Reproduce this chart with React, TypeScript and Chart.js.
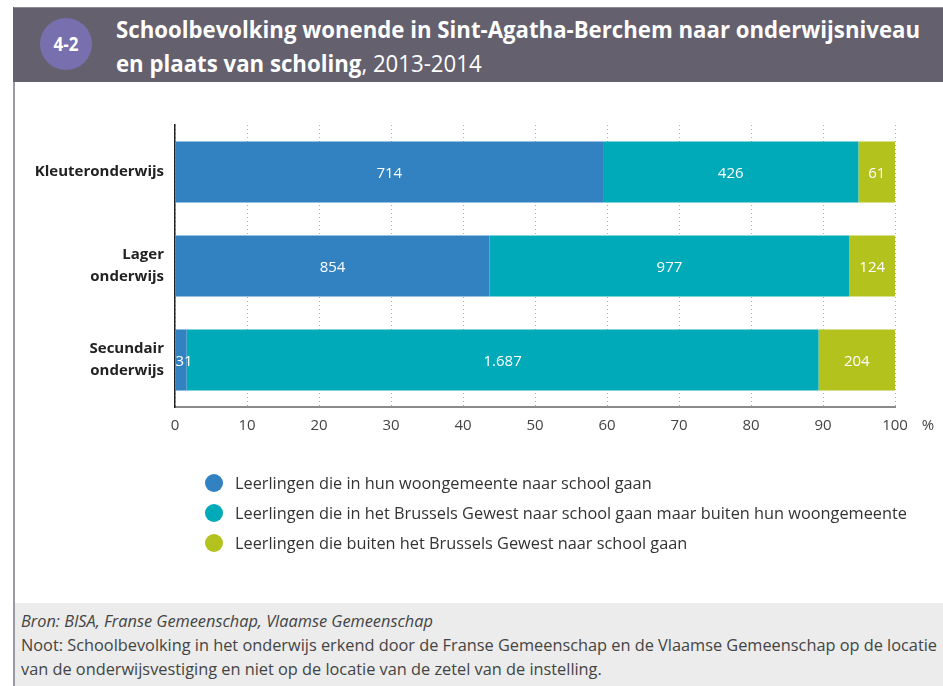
import React, { useEffect, useLayoutEffect, useRef } from "react";
import { Chart, registerables } from "chart.js";

Chart.register(...registerables);

const categories: (string | string[])[] = [
  "Kleuteronderwijs",
  ["Lager", "onderwijs"],
  ["Secundair", "onderwijs"],
];
const seriesNames = [
  "Leerlingen die in hun woongemeente naar school gaan",
  "Leerlingen die in het Brussels Gewest naar school gaan maar buiten hun woongemeente",
  "Leerlingen die buiten het Brussels Gewest naar school gaan",
];
const inWoongemeente = [714, 854, 31];
const inBrussel = [426, 977, 1687];
const buitenBrussel = [61, 124, 204];
const seriesColors = ["#3282c1", "#00aab9", "#b3c21d"];
const xTicks = [0, 10, 20, 30, 40, 50, 60, 70, 80, 90, 100];

const FONT = "'Open Sans', 'DejaVu Sans', sans-serif";

function fmt(n: number): string {
  return String(n).replace(/\B(?=(\d{3})+(?!\d))/g, ".");
}

// scales a group horizontally so that the reference element gets the target width
function useFit(target: number) {
  const group = useRef<HTMLDivElement | null>(null);
  const refEl = useRef<HTMLSpanElement | null>(null);
  useLayoutEffect(() => {
    if (group.current && refEl.current) {
      const w = refEl.current.getBoundingClientRect().width;
      if (w > 0) {
        group.current.style.transform = `scaleX(${target / w})`;
        group.current.style.transformOrigin = "0 0";
      }
    }
  }, [target]);
  return [group, refEl] as const;
}

export default function App() {
  const ref = useRef<HTMLCanvasElement | null>(null);
  const [titleGroup, titleRef] = useFit(804);
  const [legendGroup, legendRef] = useFit(672);
  const [footGroup, footRef] = useFit(916);

  useEffect(() => {
    document.body.style.margin = "0";
    const counts = [inWoongemeente, inBrussel, buitenBrussel];
    const totals = categories.map((_, i) => counts.reduce((s, arr) => s + arr[i], 0));
    const labelPlugin = {
      id: "segLabels",
      afterDatasetsDraw(chart: any) {
        const ctx = chart.ctx;
        ctx.save();
        ctx.font = `15px ${FONT}`;
        ctx.fillStyle = "#ffffff";
        ctx.textAlign = "center";
        ctx.textBaseline = "middle";
        chart.data.datasets.forEach((ds: any, di: number) => {
          const meta = chart.getDatasetMeta(di);
          meta.data.forEach((el: any, i: number) => {
            const cx = (el.x + el.base) / 2;
            ctx.fillText(fmt(counts[di][i]), cx + (di === 0 && i === 2 ? 3 : 0), el.y + 2);
          });
        });
        const xs = chart.scales.x;
        ctx.fillStyle = "#444";
        ctx.font = `15px ${FONT}`;
        ctx.fillText("%", chart.chartArea.right + 33, xs.top + 19);
        ctx.restore();
      },
    };
    const chart = new Chart(ref.current as HTMLCanvasElement, {
      type: "bar",
      data: {
        labels: categories,
        datasets: counts.map((arr, di) => ({
          label: seriesNames[di],
          data: arr.map((v, i) => (v / totals[i]) * 100),
          backgroundColor: seriesColors[di],
          borderWidth: 0,
          barPercentage: 0.65,
          categoryPercentage: 1,
        })),
      },
      options: {
        indexAxis: "y",
        responsive: false,
        animation: false,
        devicePixelRatio: 1,
        layout: { padding: { top: 43, right: 48, bottom: 80, left: 0 } },
        plugins: { legend: { display: false }, tooltip: { enabled: false } },
        scales: {
          x: {
            stacked: true,
            min: 0,
            max: 100,
            afterBuildTicks: (s: any) => {
              s.ticks = xTicks.map((v) => ({ value: v }));
            },
            afterFit: (s: any) => {
              s.height = 35;
            },
            ticks: { color: "#444", font: { family: FONT, size: 15 }, padding: 10, maxRotation: 0 },
            grid: { color: "#b0b0b0", lineWidth: 1, drawTicks: false },
            border: { display: true, color: "#8a8a8a", width: 2, dash: [1, 3] },
          },
          y: {
            stacked: true,
            afterFit: (s: any) => {
              s.width = 175;
            },
            ticks: {
              color: "#222",
              font: { family: FONT, size: 15, weight: "bold", lineHeight: 1.45 },
              padding: 11,
            },
            grid: { display: false, drawTicks: false },
            border: { display: true, color: "#222", width: 1.5 },
          },
        },
      },
      plugins: [labelPlugin],
    } as any);
    return () => chart.destroy();
  }, []);

  const legendTop = [483, 513, 543];

  return (
    <div style={{ position: "fixed", left: 0, top: 0, width: 943, height: 686, background: "#fff", overflow: "hidden", fontFamily: FONT }}>
      <div style={{ position: "absolute", left: 13, top: 82, width: 2, height: 604, background: "#9b9aa2" }} />
      <div style={{ position: "absolute", left: 13, top: 7, width: 930, height: 75, background: "#64606e" }} />
      <div style={{ position: "absolute", left: 14, top: 7, width: 929, height: 1, background: "#8e8b97" }} />
      <div
        style={{
          position: "absolute",
          left: 40,
          top: 18,
          width: 52,
          height: 52,
          borderRadius: "50%",
          background: "#7870ae",
        }}
      />
      <div
        style={{
          position: "absolute",
          left: 40,
          top: 18,
          width: 52,
          height: 52,
          lineHeight: "52px",
          textAlign: "center",
          color: "#fff",
          fontWeight: 700,
          fontSize: 20,
          transform: "scaleX(0.85)",
        }}
      >
        4-2
      </div>
      <div
        ref={titleGroup}
        style={{
          position: "absolute",
          left: 116,
          top: 12,
          color: "#fff",
          fontSize: 23,
          lineHeight: "34px",
          whiteSpace: "nowrap",
        }}
      >
        <div>
          <span ref={titleRef} style={{ fontWeight: 700 }}>
            Schoolbevolking wonende in Sint-Agatha-Berchem naar onderwijsniveau
          </span>
        </div>
        <div>
          <span style={{ fontWeight: 700 }}>en plaats van scholing</span>, 2013-2014
        </div>
      </div>
      <canvas ref={ref} width={943} height={440} style={{ position: "absolute", left: 0, top: 82, width: 943, height: 440 }} />
      {seriesNames.map((_, i) => (
        <span
          key={i}
          style={{
            position: "absolute",
            left: 205,
            top: legendTop[i] - 9,
            width: 18,
            height: 18,
            borderRadius: "50%",
            background: seriesColors[i],
          }}
        />
      ))}
      <div ref={legendGroup} style={{ position: "absolute", left: 235, top: legendTop[0] - 15, whiteSpace: "nowrap", fontSize: 16, lineHeight: "30px", color: "#333" }}>
        {seriesNames.map((n, i) => (
          <div key={i}>
            <span ref={i === 1 ? legendRef : undefined}>{n}</span>
          </div>
        ))}
      </div>
      <div style={{ position: "absolute", left: 15, top: 603, width: 928, height: 83, background: "#ebeceb" }} />
      <div ref={footGroup} style={{ position: "absolute", left: 21, top: 609, fontSize: 16, lineHeight: "24px", color: "#444", whiteSpace: "nowrap" }}>
        <div style={{ fontStyle: "italic" }}>Bron: BISA, Franse Gemeenschap, Vlaamse Gemeenschap</div>
        <div>
          <span ref={footRef}>
            Noot: Schoolbevolking in het onderwijs erkend door de Franse Gemeenschap en de Vlaamse Gemeenschap op de locatie
          </span>
        </div>
        <div>van de onderwijsvestiging en niet op de locatie van de zetel van de instelling.</div>
      </div>
    </div>
  );
}
